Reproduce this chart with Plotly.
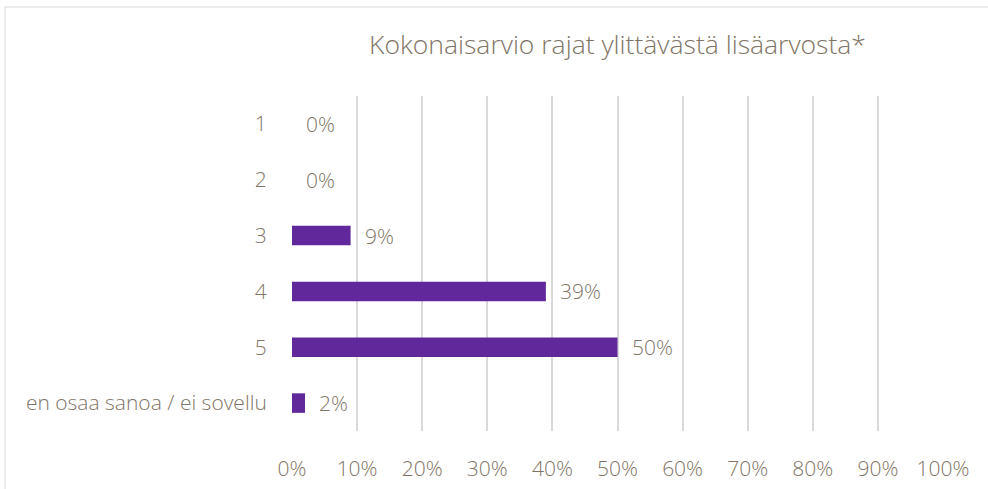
import plotly.graph_objects as go

categories = ["1", "2", "3", "4", "5", "en osaa sanoa / ei sovellu"]
values = [0, 0, 9, 39, 50, 2]
labels = ["0%", "0%", "9%", "39%", "50%", "2%"]
x_ticks = [0, 10, 20, 30, 40, 50, 60, 70, 80, 90, 100]
x_tick_labels = ["0%", "10%", "20%", "30%", "40%", "50%", "60%", "70%", "80%", "90%", "100%"]
title = "Kokonaisarvio rajat ylittävästä lisäarvosta*"

W, H = 988, 489
L, R, T, B = 292, 45, 96, 58
pw, ph = W - L - R, H - T - B

txt = "#7f7566"
font = "Open Sans"

fig = go.Figure()
fig.add_trace(go.Bar(
    x=values, y=list(range(len(categories))), orientation="h",
    marker=dict(color="#61289b", line=dict(width=0)),
    width=0.35, hoverinfo="skip",
))

annotations = []
for i, (v, lab) in enumerate(zip(values, labels)):
    annotations.append(dict(
        x=v, y=i, xref="x", yref="y", text=lab, showarrow=False,
        xanchor="left", yanchor="middle", xshift=12,
        font=dict(family=font, size=21, color=txt, weight=300),
    ))

fig.update_layout(
    width=W, height=H,
    margin=dict(l=L, r=R, t=T, b=B, autoexpand=False),
    paper_bgcolor="white", plot_bgcolor="white",
    showlegend=False,
    title=dict(text=title, x=0.5, xref="paper", xanchor="center",
               y=1 - 45 / H, yref="container", yanchor="middle",
               font=dict(family=font, size=26.5, color=txt, weight=300)),
    annotations=annotations,
    shapes=[dict(type="rect", xref="paper", yref="paper",
                 x0=(5 - L) / pw, x1=(W + 20 - L) / pw,
                 y0=(T + ph - (H + 20)) / ph, y1=(T + ph - 7) / ph,
                 line=dict(color="#d9d9d9", width=1), layer="below")],
)
fig.update_xaxes(
    range=[0, 100], tickvals=x_ticks, ticktext=x_tick_labels,
    showgrid=True, gridcolor="#d9d9d9", gridwidth=2,
    zeroline=False, showline=False,
    ticks="outside", ticklen=19, tickcolor="rgba(0,0,0,0)",
    tickfont=dict(family=font, size=21, color=txt, weight=300),
    fixedrange=True,
)
fig.update_yaxes(
    range=[len(categories) - 0.5, -0.5],
    tickvals=list(range(len(categories))), ticktext=categories,
    showgrid=False, zeroline=False, showline=False,
    ticks="outside", ticklen=20, tickcolor="rgba(0,0,0,0)",
    tickfont=dict(family=font, size=21, color=txt, weight=300),
    fixedrange=True,
)

fig.write_html("out.html", config={"displayModeBar": False},
               post_script="document.body.style.margin='0';")
